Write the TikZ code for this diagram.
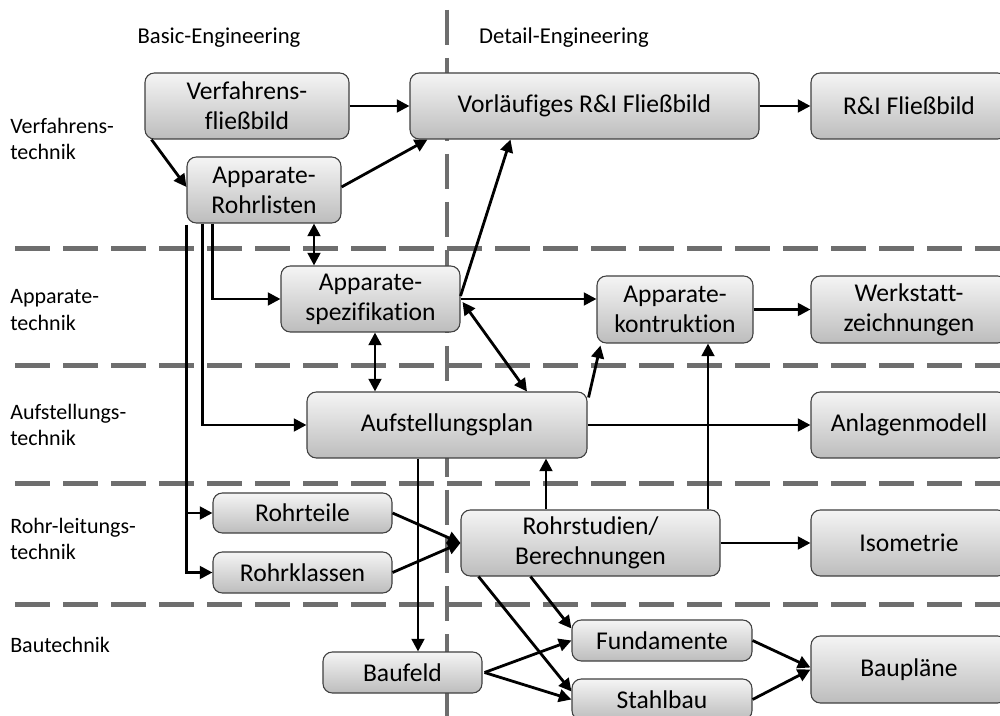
\documentclass[tikz,border=0pt]{standalone}
\usepackage{fontspec}
\setmainfont{Carlito}[Ligatures=NoCommon]
\usetikzlibrary{arrows.meta,calc}
\begin{document}
\begin{tikzpicture}[x=0.75pt,y=-0.75pt,
 box/.style={draw=black!75, line width=0.8pt, rounded corners=7pt, top color=black!4, bottom color=black!26, inner sep=0pt, align=center, font=\fontsize{19.2}{22.5}\selectfont},
 big/.style={minimum height=49.5pt},
 small/.style={minimum height=30.75pt},
 lab/.style={anchor=west, align=left, inner sep=0pt, font=\fontsize{16.5}{20}\selectfont},
 head/.style={inner sep=0pt, font=\fontsize{17}{20}\selectfont},
 sep/.style={draw=black!57, line width=3.75pt, dash pattern=on 26pt off 10pt},
 arr/.style={line width=2.1pt, -{Triangle[length=9.5pt,width=9.5pt]}},
 darr/.style={line width=2.1pt, {Triangle[length=9.5pt,width=9.5pt]}-{Triangle[length=9.5pt,width=9.5pt]}}]
\useasboundingbox (0,0) rectangle (1000,716);
\fill[white] (0,0) rectangle (1000,716);
% separators
\draw[sep] (15,249) -- (1000,249);
\draw[sep] (15,366) -- (1000,366);
\draw[sep] (15,484) -- (1000,484);
\draw[sep] (15,604) -- (1000,604);
\draw[sep, line width=3pt] (447,10) -- (447,716);
% headings
\node[head] (hb) at (219,38) {Basic-Engineering};
\node[head] (hd) at (564,38) {Detail-Engineering};
\node[lab] (l1) at (10,139) {Verfahrens-\\technik};
\node[lab] (l2) at (10,310) {Apparate-\\technik};
\node[lab] (l3) at (10,425) {Aufstellungs-\\technik};
\node[lab] (l4) at (10,539) {Rohr-leitungs-\\technik};
\node[lab] (l5) at (10,645) {Bautechnik};
% boxes
\node[box, big, minimum width=153pt] (vfb) at (247,106) {Verfahrens-\\fließbild};
\node[box, big, minimum width=115.5pt] (arl) at (264,190) {Apparate-\\Rohrlisten};
\node[box, big, minimum width=261.75pt] (vri) at (584.5,106) {Vorläufiges R\&I Fließbild};
\node[box, big, minimum width=147pt] (ri) at (909,106) {R\&I Fließbild};
\node[box, big, minimum width=134.25pt] (asp) at (370.5,299) {Apparate-\\spezifikation};
\node[box, minimum height=50.25pt, minimum width=117pt] (ako) at (675,309.5) {Apparate-\\kontruktion};
\node[box, minimum height=50.25pt, minimum width=147pt] (wz) at (909,309.5) {Werkstatt-\\zeichnungen};
\node[box, big, minimum width=210pt] (ap) at (447,425) {Aufstellungsplan};
\node[box, big, minimum width=147pt] (am) at (909,425) {Anlagenmodell};
\node[box, minimum height=30pt, minimum width=134.25pt] (rt) at (302.5,513) {Rohrteile};
\node[box, small, minimum width=134.25pt] (rk) at (302.5,572.5) {Rohrklassen};
\node[box, big, minimum width=194.25pt] (rs) at (590.5,543) {Rohrstudien/\\Berechnungen};
\node[box, big, minimum width=147pt] (iso) at (909,543) {Isometrie};
\node[box, small, minimum width=135pt] (fu) at (662,640.5) {Fundamente};
\node[box, small, minimum width=135pt] (sb) at (662,699.5) {Stahlbau};
\node[box, small, minimum width=119.25pt] (bf) at (402.5,672.5) {Baufeld};
\node[box, minimum height=50.25pt, minimum width=147pt] (bp) at (909,669.5) {Baupläne};
% connectors
\draw[arr] (vfb.east) -- (vri.west);
\draw[arr] ($(vfb.south west)+(7,0)$) -- ($(arl.west)+(0,-3)$);
\draw[arr] ($(arl.east)+(0,-3)$) -- ($(vri.south west)+(18,0)$);
\draw[arr] (vri.east) -- (ri.west);
\draw[darr] ($(arl.south)+(50,0)$) -- ($(asp.north)+(-56.5,0)$);
\draw[arr] ($(arl.south west)+(26,0)$) |- (asp.west);
\draw[arr] ($(arl.south west)+(16,0)$) |- (ap.west);
\draw[arr] ($(arl.south west)+(0,1)$) |- (rk.west);
\coordinate (rtb) at ($(arl.south west |- rt.west)$);
\draw[arr] (rtb) -- (rt.west);
\draw[darr] ($(asp.south)+(4.5,0)$) -- ($(ap.north)+(-72,0)$);
\draw[arr] ($(asp.east)+(0,-3)$) -- ($(vri.south west)+(101,0)$);
\draw[arr] (asp.east) -- (asp.east -| ako.west);
\draw[darr] ($(asp.east)+(2,3)$) -- ($(ap.north)+(80,0)$);
\draw[arr] ($(ap.north east)+(1,6)$) -- ($(ako.south west)+(4,2)$);
\draw[arr] ($(rs.north)+(117.5,0)$) -- ($(ako.south)+(33,0)$);
\draw[arr] (ako.east) -- (wz.west);
\draw[arr] (ap.east) -- (am.west);
\draw[arr] ($(rs.north)+(-44.5,0)$) -- ($(ap.south)+(99,0)$);
\draw[arr] ($(ap.south)+(-29,0)$) -- ($(bf.north)+(15.5,0)$);
\draw[arr] (rt.east) -- (rs.west);
\draw[arr] (rk.east) -- (rs.west);
\draw[arr] (rs.east) -- (iso.west);
\draw[arr] ($(rs.south)+(-60,0)$) -- ($(fu.west)+(0,-12)$);
\draw[arr] ($(rs.south)+(-112,0)$) -- ($(sb.west)+(0,-8)$);
\coordinate (bfo) at ($(bf.east)+(2,0)$);
\draw[arr] (bfo) -- (fu.west);
\draw[arr] (bfo) -- (sb.west);
\draw[arr] (fu.east) -- ($(bp.west)+(0,-2)$);
\draw[arr] (sb.east) -- (bp.west);
\end{tikzpicture}
\end{document}
